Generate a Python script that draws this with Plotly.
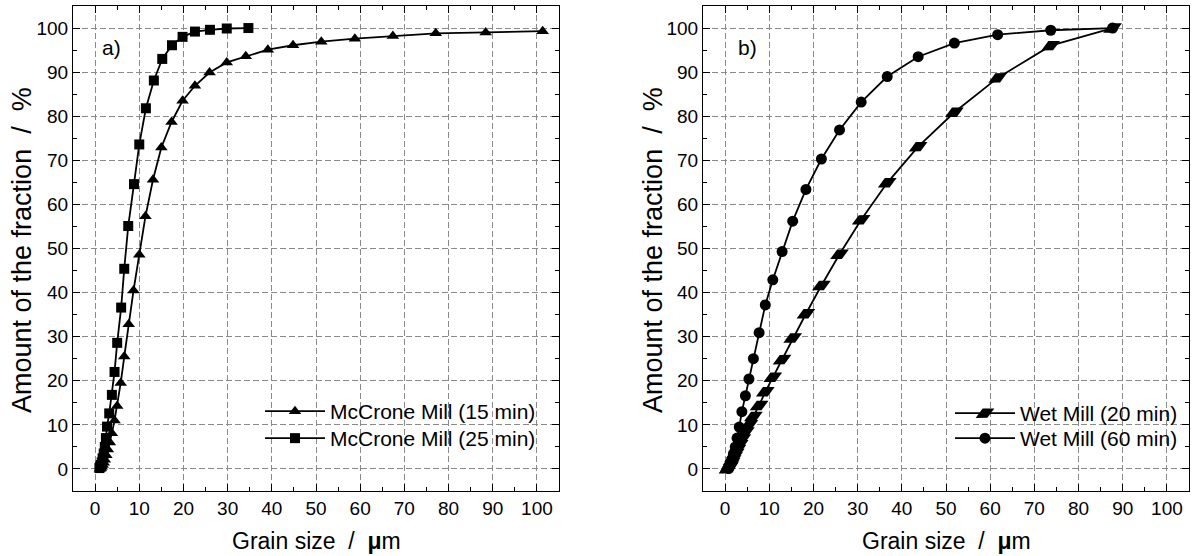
import plotly.graph_objects as go

# ---- data (panel a: McCrone mill) ----
mc15_x = [1.13, 1.3, 1.5, 1.7, 1.95, 2.2, 2.55, 2.9, 3.35, 3.8, 4.4, 5.0, 5.8, 6.6, 7.6, 8.7,
          10.0, 11.4, 13.1, 15.0, 17.3, 19.8, 22.6, 25.9, 29.8, 34.1, 39.1, 44.8, 51.2, 58.8,
          67.4, 77.1, 88.4, 101.3]
mc15_y = [0.05, 0.2, 0.5, 0.9, 1.4, 2.1, 3.1, 4.4, 6.0, 8.1, 11.0, 14.3, 19.5, 25.5, 32.8, 40.5,
          48.6, 57.3, 65.6, 72.9, 78.7, 83.5, 86.9, 89.9, 92.2, 93.6, 95.1, 96.1, 96.9, 97.6,
          98.2, 98.8, 99.0, 99.3]
mc25_x = [0.98, 1.13, 1.3, 1.5, 1.7, 1.95, 2.2, 2.45, 2.7, 3.2, 3.8, 4.4, 5.0, 5.9, 6.6, 7.5,
          8.8, 10.0, 11.5, 13.3, 15.2, 17.4, 19.8, 22.6, 26.0, 29.8, 34.7]
mc25_y = [0.2, 0.5, 0.9, 1.5, 2.4, 3.5, 5.0, 7.0, 9.6, 12.6, 16.8, 22.0, 28.6, 36.6, 45.4, 55.1,
          64.6, 73.6, 81.8, 88.1, 93.0, 96.1, 98.0, 99.2, 99.6, 99.9, 100.0]

# ---- data (panel b: wet mill) ----
wet_x = [0.67, 0.8, 0.95, 1.13, 1.35, 1.6, 1.9, 2.3, 2.7, 3.2, 3.8, 4.6, 5.4, 6.4, 7.7, 9.1,
         10.8, 12.9, 15.3, 18.3, 21.8, 25.9, 30.8, 36.7, 43.7, 51.9, 61.7, 73.7, 87.7]
wet20_y = [0.05, 0.2, 0.5, 0.9, 1.4, 2.0, 2.7, 3.5, 4.4, 5.5, 6.8, 8.4, 10.0, 11.9, 14.4, 17.5,
           20.8, 24.8, 29.7, 35.2, 41.6, 48.7, 56.5, 64.9, 73.1, 80.9, 88.7, 96.0, 100.0]
wet60_y = [None, 0.1, 0.4, 0.8, 1.4, 2.3, 3.5, 5.0, 7.0, 9.5, 13.0, 16.6, 20.4, 25.0, 30.9, 37.2,
           42.9, 49.3, 56.2, 63.4, 70.3, 76.9, 83.2, 89.0, 93.5, 96.6, 98.5, 99.5, 100.0]

tick_vals = list(range(0, 101, 10))
tick_text = [str(v) for v in tick_vals]
x_title = "Grain size  /  <b>μ</b>m"
y_title = "Amount of the fraction  /  %"

FONT = "Liberation Sans, Arial, sans-serif"
fig = go.Figure()

line = dict(color="black", width=1.8)
fig.add_trace(go.Scatter(x=mc15_x, y=mc15_y, mode="lines+markers", name="McCrone Mill (15 min)",
                         line=line, marker=dict(symbol="triangle-up", size=11, color="black"),
                         xaxis="x", yaxis="y", legend="legend", showlegend=True))
fig.add_trace(go.Scatter(x=mc25_x, y=mc25_y, mode="lines+markers", name="McCrone Mill (25 min)",
                         line=line, marker=dict(symbol="square", size=10, color="black"),
                         xaxis="x", yaxis="y", legend="legend2", showlegend=True))
fig.add_trace(go.Scatter(x=wet_x, y=wet20_y, mode="lines+markers", name="Wet Mill (20 min)",
                         line=line, marker=dict(symbol="diamond-tall", size=15, angle=63, color="black"),
                         xaxis="x2", yaxis="y2", legend="legend3", showlegend=True))
fig.add_trace(go.Scatter(x=wet_x, y=wet60_y, mode="lines+markers", name="Wet Mill (60 min)",
                         line=line, marker=dict(symbol="circle", size=11, color="black"),
                         xaxis="x2", yaxis="y2", legend="legend4", showlegend=True))

L, R, T, B = 73, 5, 6, 65
W, H = 1194, 556
pw = W - L - R
ph = H - T - B
d1 = [0, 486 / pw]
d2 = [(703 - L) / pw, 1]

def px_x(p):
    return (p - L) / pw

def px_y(p):
    return (H - B - p) / ph

def ax(domain, anchor):
    return dict(domain=domain, range=[-5, 105], tickmode="array", tickvals=tick_vals, ticktext=tick_text,
                showgrid=True, gridcolor="#8a8a8a", griddash="6px,3px", gridwidth=1,
                zeroline=False, showline=True, linecolor="black", linewidth=1.2, mirror="ticks",
                ticks="inside", ticklen=7, tickcolor="black", tickwidth=1,
                minor=dict(ticks="inside", ticklen=4, dtick=5, tick0=0, tickcolor="black", showgrid=False),
                tickfont=dict(size=19, color="black", family=FONT),
                anchor=anchor, automargin=False)

def leg(x, top):
    return dict(x=px_x(x), y=px_y(top), xanchor="left", yanchor="top",
                bgcolor="rgba(0,0,0,0)", font=dict(size=21, family=FONT, color="black"),
                itemwidth=60, tracegroupgap=0, visible=True)

def txt(text, x, y, size, angle=0, xanchor="center", xref="paper", yref="paper"):
    return dict(text=text, x=x, y=y, xref=xref, yref=yref, xanchor=xanchor, yanchor="middle",
                textangle=angle, showarrow=False, font=dict(size=size, family=FONT, color="black"))

fig.update_layout(
    width=W, height=H, margin=dict(l=L, r=R, t=T, b=B),
    paper_bgcolor="white", plot_bgcolor="white", showlegend=True,
    font=dict(family=FONT, color="black"),
    xaxis=ax(d1, "y"), yaxis=ax([0, 1], "x"),
    xaxis2=ax(d2, "y2"), yaxis2=ax([0, 1], "x2"),
    legend=leg(260, 391), legend2=leg(260, 418),
    legend3=leg(950, 393), legend4=leg(950, 418),
    annotations=[
        txt("a)", 1.2, 95.7, 21, xanchor="left", xref="x", yref="y"),
        txt("b)", 2.5, 95.7, 21, xanchor="left", xref="x2", yref="y2"),
        txt(x_title, px_x(316), px_y(541), 23),
        txt(x_title, px_x(946), px_y(541), 23),
        txt(y_title, px_x(22), px_y(250), 27, angle=-90),
        txt(y_title, px_x(653), px_y(250), 27, angle=-90),
    ],
)

fig.write_html("out.html", config={"displayModeBar": False},
               post_script="document.body.style.margin='0px';")
